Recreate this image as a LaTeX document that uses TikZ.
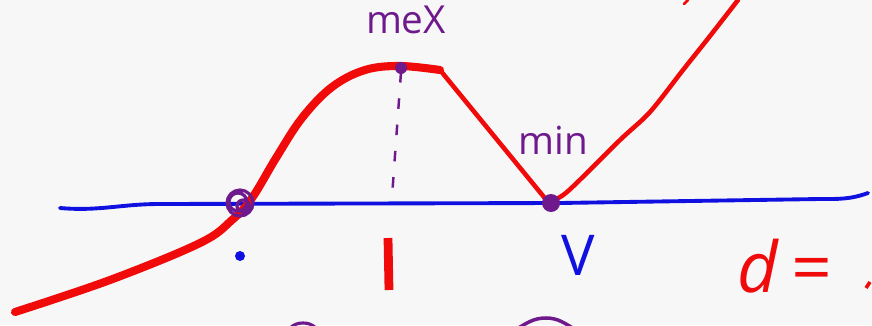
\documentclass[tikz,border=0pt]{standalone}
\usepackage{fontspec}
\setmainfont{Open Sans}
\usepackage{tikz}
\usepackage{xcolor}
\definecolor{paperc}{HTML}{F7F7F7}
\definecolor{inkred}{HTML}{F00A0A}
\definecolor{inkblue}{HTML}{1010E0}
\definecolor{inkpurple}{HTML}{6E1A8C}
\tikzset{
  axis/.style={draw=inkblue, line width=2.2pt, line cap=round, line join=round},
  graph/.style={draw=inkred, line cap=round, line join=round},
  dotmark/.style={fill=inkpurple},
  note/.style={text=inkpurple, font=\fontsize{22}{24}\selectfont},
}
\begin{document}
\begin{tikzpicture}[x=0.02cm, y=-0.02cm]
\fill[paperc] (0,0) rectangle (872,325);
\useasboundingbox (0,0) rectangle (872,325);
\draw[axis] (60,208) to[out=-5,in=180] (160,204) -- (560,203) -- (820,199) to[out=0,in=200] (868,193);
\draw[graph, line width=4.6pt] plot[smooth, tension=0.6] coordinates {(15,312) (110,280) (200,243) (232,220) (252,198) (276,158) (302,118) (332,87) (365,70) (400,66) (440,70)};
\draw[graph, line width=2.6pt] (440,70) -- (548,202) plot[smooth, tension=0.5] coordinates {(548,202) (567,192) (620,140) (650,112) (683,70) (710,36) (738,0)};
\draw[graph, line width=1.6pt] (684,4) -- (688,0);
\draw[inkpurple, line width=1.4pt, dash pattern=on 6pt off 9pt] (401,72) -- (392,197);
\fill[dotmark] (401,68) circle (6);
\fill[dotmark] (551,203) circle (9);
\draw[inkpurple, line width=1.8pt] (240,203) circle (13) (238,202) circle (9) (243,206) circle (6);
\fill[inkblue] (240,256) circle (5);
\draw[inkred, line width=5pt] (388,238) -- (389,290);
\node[note] (maxlbl) at (406,20) {meX};
\node[note] (minlbl) at (553,140) {min};
\node[text=inkblue, font=\fontsize{32}{34}\selectfont] (vlbl) at (578,255) {V};
\node[text=inkred, font=\fontsize{40}{44}\selectfont\itshape] (dlbl) at (784,266) {d\,=};
\draw[inkred, line width=2pt] (866,288) -- (870,282);
\draw[inkpurple, line width=1.8pt] (290,328) to[out=40,in=180] (303,323) to[out=0,in=140] (316,328);
\draw[inkpurple, line width=2pt] (515,330) to[out=30,in=180] (546,318) to[out=0,in=150] (576,330);
\end{tikzpicture}
\end{document}
